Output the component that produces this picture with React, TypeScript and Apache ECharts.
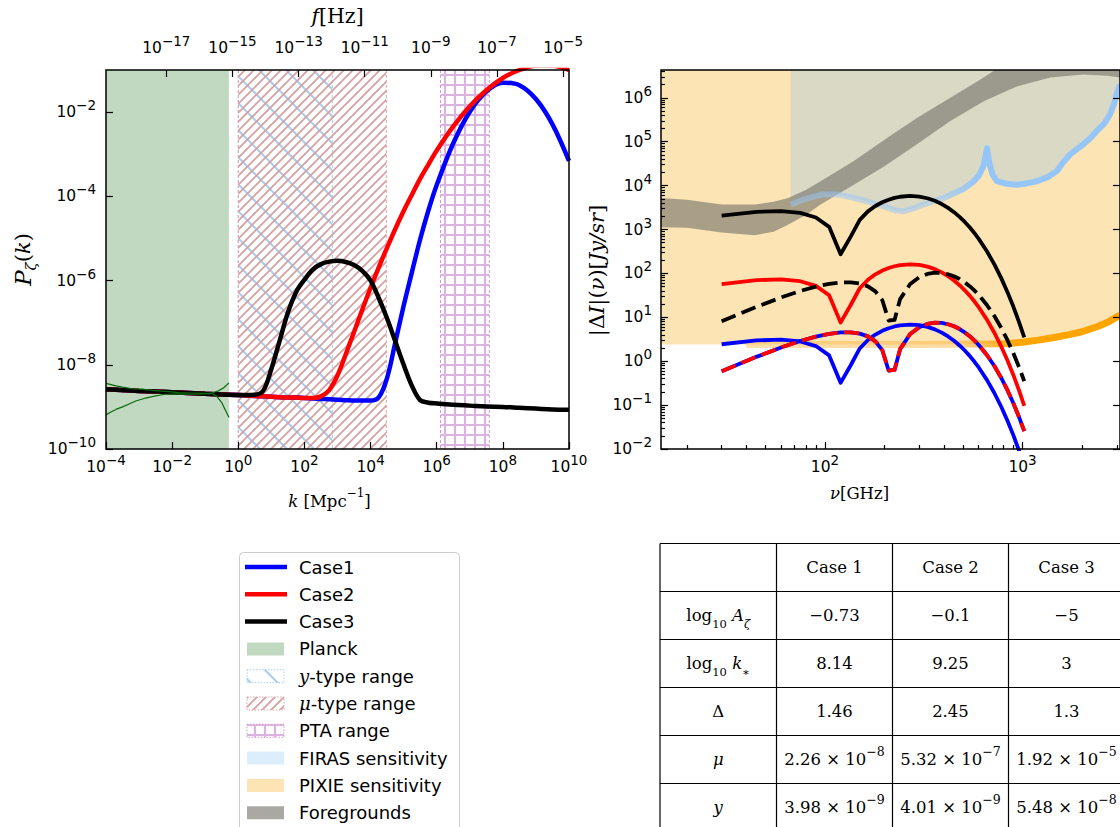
import React, { useEffect, useRef } from 'react';
import * as echarts from 'echarts';

// ================= LEFT PANEL DATA =================
const LOG_K = [-4, -3, -2, -1, 0, 0.5, 0.75, 1, 1.25, 1.5, 1.75, 2, 2.25, 2.5, 2.75, 3, 3.25, 3.5, 3.75, 4, 4.25, 4.5, 4.75, 5, 5.25, 5.5, 5.75, 6, 6.5, 7, 7.5, 8, 8.5, 9, 9.5, 10];
const LOG_P_CASE1 = [-8.58, -8.62, -8.65, -8.69, -8.72, -8.74, -8.75, -8.76, -8.77, -8.78, -8.78, -8.79, -8.80, -8.81, -8.82, -8.83, -8.84, -8.85, -8.85, -8.85, -8.77, -8.31, -7.46, -6.60, -5.80, -5.02, -4.33, -3.73, -2.74, -1.99, -1.51, -1.30, -1.36, -1.69, -2.29, -3.16];
const LOG_P_CASE2 = [-8.58, -8.62, -8.65, -8.69, -8.72, -8.74, -8.75, -8.76, -8.77, -8.78, -8.78, -8.79, -8.79, -8.75, -8.60, -8.25, -7.75, -7.22, -6.69, -6.17, -5.68, -5.22, -4.77, -4.35, -3.96, -3.58, -3.24, -2.91, -2.34, -1.86, -1.48, -1.19, -1.00, -0.90, -0.90, -1.00];
const LOG_P_CASE3 = [-8.58, -8.62, -8.65, -8.69, -8.72, -8.71, -8.62, -8.10, -7.43, -6.76, -6.27, -5.98, -5.74, -5.61, -5.55, -5.53, -5.56, -5.63, -5.77, -6.00, -6.42, -6.90, -7.45, -8.00, -8.50, -8.84, -8.90, -8.92, -8.95, -8.97, -8.99, -9.00, -9.02, -9.04, -9.06, -9.07];
const PLANCK_UP_LOGK = [-4, -3.7, -3.5, -3.2, -2.9, -2.6, -2.2, -1.8, -1.4, -1.0, -0.8, -0.6, -0.45, -0.28];
const PLANCK_UP_LOGP = [-8.44, -8.50, -8.53, -8.57, -8.58, -8.61, -8.63, -8.66, -8.67, -8.68, -8.67, -8.62, -8.55, -8.43];
const PLANCK_LO_LOGK = [-4, -3.85, -3.7, -3.5, -3.3, -3.1, -2.8, -2.5, -2.2, -1.8, -1.4, -1.0, -0.8, -0.65, -0.5, -0.28];
const PLANCK_LO_LOGP = [-9.19, -9.12, -9.06, -9.0, -8.93, -8.86, -8.79, -8.74, -8.70, -8.69, -8.70, -8.69, -8.68, -8.75, -8.90, -9.25];
const PLANCK_K = [1e-4, 0.52];
const YTYPE_K = [1, 700];
const MUTYPE_K = [1, 3e4];
const PTA_K = [1.3e6, 3.9e7];
const K_TICKS = [1e-4, 1e-2, 1, 1e2, 1e4, 1e6, 1e8, 1e10];
const F_TICKS = [1e-17, 1e-15, 1e-13, 1e-11, 1e-9, 1e-7, 1e-5];
const P_TICKS = [1e-10, 1e-8, 1e-6, 1e-4, 1e-2];
const K_RANGE = [1e-4, 1e10];
const P_RANGE = [1e-10, 1e-1];
const K_TO_F = 1.5e-15;

// ================= RIGHT PANEL DATA =================
const NU = [30, 45, 60, 75, 90, 105, 120, 135, 150, 165, 180, 195, 210, 225, 240, 270, 300, 330, 360, 390, 420, 450, 480, 510, 540, 570, 600, 660, 720, 780, 840, 900, 960, 1020];
const LOG_MU_CASE3 = [3.315, 3.403, 3.420, 3.379, 3.274, 3.061, 2.436, 2.837, 3.219, 3.413, 3.536, 3.621, 3.679, 3.720, 3.746, 3.764, 3.751, 3.712, 3.654, 3.580, 3.493, 3.395, 3.288, 3.173, 3.051, 2.922, 2.787, 2.504, 2.205, 1.892, 1.567, 1.233, 0.891, 0.541];
const LOG_MU_CASE2 = [1.758, 1.846, 1.863, 1.822, 1.717, 1.504, 0.879, 1.280, 1.662, 1.856, 1.979, 2.064, 2.122, 2.163, 2.189, 2.207, 2.194, 2.155, 2.097, 2.023, 1.936, 1.838, 1.731, 1.616, 1.494, 1.365, 1.230, 0.947, 0.648, 0.335, 0.010, -0.324, -0.666, -1.016];
const LOG_MU_CASE1 = [0.386, 0.474, 0.491, 0.450, 0.345, 0.132, -0.493, -0.092, 0.290, 0.484, 0.607, 0.692, 0.750, 0.791, 0.817, 0.835, 0.822, 0.783, 0.725, 0.651, 0.564, 0.466, 0.359, 0.244, 0.122, -0.007, -0.142, -0.425, -0.724, -1.037, -1.362, -1.696, -2.038, -2.388];
const LOG_Y_CASE3 = [0.911, 1.238, 1.452, 1.599, 1.699, 1.763, 1.795, 1.797, 1.768, 1.705, 1.592, 1.393, 0.927, 0.939, 1.413, 1.759, 1.913, 1.987, 2.015, 2.010, 1.981, 1.934, 1.871, 1.795, 1.709, 1.613, 1.509, 1.280, 1.029, 0.759, 0.473, 0.175, -0.135, -0.454];
const LOG_Y_CASE12 = [-0.228, 0.099, 0.313, 0.460, 0.560, 0.624, 0.656, 0.658, 0.629, 0.566, 0.453, 0.254, -0.212, -0.200, 0.274, 0.620, 0.774, 0.848, 0.876, 0.871, 0.842, 0.795, 0.732, 0.656, 0.570, 0.474, 0.370, 0.141, -0.110, -0.380, -0.666, -0.964, -1.274, -1.593];
const PIXIE_NU = [14.8, 40, 100, 300, 600, 800, 1000, 1200, 1400, 1700, 2000, 2400, 2700, 3113];
const PIXIE_LOG = [0.38, 0.38, 0.38, 0.38, 0.39, 0.40, 0.43, 0.48, 0.53, 0.60, 0.67, 0.79, 0.89, 1.05];
const FIRAS_NU = [67, 80, 97, 115, 140, 170, 207, 230, 251, 280, 316, 400, 500, 560, 600, 635, 661, 680, 705, 742, 830, 935, 1050, 1180, 1350, 1490, 1600, 1740, 1900, 2030, 2200, 2370, 2600, 2770, 2900, 3000, 3113];
const FIRAS_LOG = [3.57, 3.70, 3.80, 3.80, 3.72, 3.62, 3.50, 3.43, 3.42, 3.48, 3.57, 3.72, 3.92, 4.08, 4.22, 4.45, 4.85, 4.50, 4.25, 4.10, 4.04, 4.02, 4.05, 4.10, 4.20, 4.33, 4.52, 4.71, 4.84, 4.94, 5.08, 5.24, 5.42, 5.62, 5.85, 6.10, 6.30];
const FG_UP_NU = [14.8, 20, 30, 44, 55, 65, 80, 95, 140, 207, 292, 431, 636, 725, 3113];
const FG_UP_LOG = [3.72, 3.68, 3.57, 3.57, 3.63, 3.72, 3.90, 4.10, 4.56, 5.09, 5.54, 6.0, 6.46, 6.633, 6.633];
const FG_LO_NU = [14.8, 20, 30, 44, 55, 65, 80, 95, 140, 200, 292, 431, 636, 935, 1380, 2030, 2700, 3113];
const FG_LO_LOG = [3.05, 3.04, 2.93, 2.87, 2.95, 3.11, 3.33, 3.57, 4.02, 4.44, 4.94, 5.47, 5.92, 6.26, 6.46, 6.53, 6.50, 6.46];
const NU_RANGE = [14.8, 3113];
const I_RANGE = [1e-2, 4.3e6];
const NU_TICKS = [100, 1000];
const I_TICKS = [1e-2, 1e-1, 1, 1e1, 1e2, 1e3, 1e4, 1e5, 1e6];

// ================= TABLE =================
const TABLE_CASES = ['Case 1', 'Case 2', 'Case 3'];
const LOG10_A = ['−0.73', '−0.1', '−5'];
const LOG10_KSTAR = ['8.14', '9.25', '3'];
const DELTA_VAL = ['1.46', '2.45', '1.3'];
const MU_MANT = ['2.26', '5.32', '1.92'];
const MU_EXP = ['−8', '−7', '−5'];
const Y_MANT = ['3.98', '4.01', '5.48'];
const Y_EXP = ['−9', '−9', '−8'];

// ================= LEGEND =================
const LEGEND_LABELS = ['Case1', 'Case2', 'Case3', 'Planck', '{m|y}{t|-type range}', '{m|μ}{t|-type range}', 'PTA range', 'FIRAS sensitivity', 'PIXIE sensitivity', 'Foregrounds'];

// ================= STYLE =================
const FONT = 'DejaVu Sans';
const SERIF = 'DejaVu Serif';
const C_BLUE = '#0000ff';
const C_RED = '#ff0000';
const C_BLACK = '#000000';
const C_PLANCK = '#c0d9c0';
const C_PIXIE_FILL = 'rgb(253,228,180)';
const C_FIRAS_FILL = 'rgba(130,190,245,0.28)';
const C_FG = 'rgba(118,114,106,0.62)';
const C_YHATCH = '#a9cdf2';
const C_MUHATCH = '#d6a0a0';
const C_PTAHATCH = '#dab3de';

const lo = (v: number) => v * (1 - 1e-9);
const hi = (v: number) => v * (1 + 1e-9);

const expLabel = (v: number) => {
  const e = Math.round(Math.log10(v));
  return `{b|10}{s|${e < 0 ? '−' + -e : e}}`;
};
const LABEL_RICH = {
  b: { fontFamily: FONT, fontSize: 15.5, lineHeight: 28, color: '#000' },
  s: { fontFamily: FONT, fontSize: 13.5, lineHeight: 12, verticalAlign: 'top', color: '#000' },
};
const NAME_RICH = {
  n: { fontFamily: SERIF, fontSize: 16.5, lineHeight: 28, color: '#000' },
  i: { fontFamily: SERIF, fontStyle: 'italic', fontSize: 16.5, lineHeight: 28, color: '#000' },
  s: { fontFamily: SERIF, fontSize: 12, lineHeight: 11, verticalAlign: 'top', color: '#000' },
  N: { fontFamily: SERIF, fontSize: 20.5, lineHeight: 28, color: '#000' },
  I: { fontFamily: SERIF, fontStyle: 'italic', fontSize: 20.5, lineHeight: 28, color: '#000' },
  yn: { fontFamily: SERIF, fontSize: 21, lineHeight: 30, color: '#000' },
  yi: { fontFamily: SERIF, fontStyle: 'italic', fontSize: 21, lineHeight: 30, color: '#000' },
  yP: { fontFamily: SERIF, fontStyle: 'italic', fontSize: 23, lineHeight: 30, color: '#000' },
  yb: { fontFamily: SERIF, fontStyle: 'italic', fontSize: 15, lineHeight: 21, verticalAlign: 'bottom', color: '#000' },
};

function minorTicks(a: number, b: number) {
  const out: number[] = [];
  for (let e = Math.floor(Math.log10(a)); e <= Math.ceil(Math.log10(b)); e++) {
    for (let m = 2; m <= 9; m++) {
      const v = m * Math.pow(10, e);
      if (v > a && v < b) out.push(v);
    }
  }
  return out;
}

function hatch(kind: string, size: number, color: string, lw: number) {
  const c = document.createElement('canvas');
  c.width = size;
  c.height = size;
  const g = c.getContext('2d')!;
  g.strokeStyle = color;
  g.lineWidth = lw;
  g.beginPath();
  if (kind === 'fwd') {
    g.moveTo(-2, size + 2); g.lineTo(size + 2, -2);
    g.moveTo(-2, 2); g.lineTo(2, -2);
    g.moveTo(size - 2, size + 2); g.lineTo(size + 2, size - 2);
  } else if (kind === 'back') {
    g.moveTo(-2, -2); g.lineTo(size + 2, size + 2);
    g.moveTo(size - 2, -2); g.lineTo(size + 2, 2);
    g.moveTo(-2, size - 2); g.lineTo(2, size + 2);
  } else {
    g.moveTo(size / 2, 0); g.lineTo(size / 2, size);
    g.moveTo(0, size / 2); g.lineTo(size, size / 2);
  }
  g.stroke();
  return { image: c.toDataURL(), repeat: 'repeat', imageWidth: size, imageHeight: size };
}

const logAxis = (o: any) => ({
  type: 'log',
  logBase: 10,
  z: 10,
  axisLine: { show: false },
  splitLine: { show: false },
  minorTick: { show: false },
  minorSplitLine: { show: false },
  ...o,
});
const tickStyle = (vals: number[], len: number) => ({
  show: true, inside: true, length: len, customValues: vals, lineStyle: { color: '#000', width: 1.2 },
});
const labelStyle = (vals: number[], margin: number) => ({
  show: true, customValues: vals, formatter: expLabel, margin, rich: LABEL_RICH,
});
const noLabel = { show: false };

function buildOption() {
  const patY = hatch('back', 27, C_YHATCH, 2);
  const patMu = hatch('fwd', 9, C_MUHATCH, 1.7);
  const patPta = hatch('grid', 10, C_PTAHATCH, 2.2);

  const regionSeries = (range: number[], fill: any, edge: string | null, z: number) => ({
    type: 'custom', xAxisIndex: 0, yAxisIndex: 0, z, silent: true,
    data: [[range[0], range[1], P_RANGE[0]]],
    encode: { x: [0, 1], y: 2 },
    renderItem: (params: any, api: any) => {
      const cs = params.coordSys;
      const x0 = api.coord([api.value(0), P_RANGE[0]])[0];
      const x1 = api.coord([api.value(1), P_RANGE[0]])[0];
      const children: any[] = [{ type: 'rect', shape: { x: x0, y: cs.y, width: x1 - x0, height: cs.height }, style: { fill } }];
      if (edge) {
        [x0, x1].forEach((x) => children.push({ type: 'line', shape: { x1: x, y1: cs.y, x2: x, y2: cs.y + cs.height }, style: { stroke: edge, lineWidth: 1, lineDash: [3, 2] } }));
      }
      return { type: 'group', children };
    },
  });

  const pk = (logp: number[]) => LOG_K.map((lk, i) => [Math.pow(10, lk), Math.pow(10, logp[i])]);
  const pts = (xs: number[], logs: number[]) => xs.map((x, i) => [x, Math.pow(10, logs[i])]);
  const ptsLog = (lxs: number[], logs: number[]) => lxs.map((x, i) => [Math.pow(10, x), Math.pow(10, logs[i])]);

  const leftLine = (data: any, color: string, width: number, z: number, smooth: any = 0.35) => ({
    type: 'line', xAxisIndex: 0, yAxisIndex: 0, data, symbol: 'none', smooth, z, silent: true,
    lineStyle: { color, width, cap: 'butt' },
  });
  const rightLine = (data: any, color: any, width: number, z: number, extra: any = {}) => ({
    type: 'line', xAxisIndex: 2, yAxisIndex: 1, data, symbol: 'none', z, silent: true,
    lineStyle: { color, width, cap: 'butt', join: 'round', ...extra },
  });

  const series: any[] = [
    regionSeries(PLANCK_K, C_PLANCK, null, 1),
    regionSeries(YTYPE_K, patY, C_YHATCH, 1),
    regionSeries(MUTYPE_K, patMu, '#e2a6ae', 1),
    regionSeries(PTA_K, patPta, '#cf9ad3', 1),
    leftLine(pk(LOG_P_CASE1), C_BLUE, 4.5, 3),
    leftLine(pk(LOG_P_CASE2), C_RED, 4.5, 4),
    leftLine(pk(LOG_P_CASE3), C_BLACK, 4.5, 5),
    leftLine(ptsLog(PLANCK_UP_LOGK, PLANCK_UP_LOGP), '#0b6b0b', 1.2, 6, false),
    leftLine(ptsLog(PLANCK_LO_LOGK, PLANCK_LO_LOGP), '#0b6b0b', 1.2, 6, false),
    // right panel fills
    {
      type: 'line', xAxisIndex: 2, yAxisIndex: 1, data: pts(PIXIE_NU, PIXIE_LOG), symbol: 'none', z: 1, silent: true,
      lineStyle: { width: 0, opacity: 0 }, areaStyle: { color: C_PIXIE_FILL, opacity: 1, origin: 'end' },
    },
    {
      type: 'line', xAxisIndex: 2, yAxisIndex: 1, data: pts(FIRAS_NU, FIRAS_LOG), symbol: 'none', z: 2, silent: true,
      lineStyle: { width: 0, opacity: 0 }, areaStyle: { color: C_FIRAS_FILL, opacity: 1, origin: 'end' },
    },
    {
      type: 'custom', xAxisIndex: 2, yAxisIndex: 1, z: 3, silent: true,
      data: [[FG_UP_NU[0], Math.pow(10, FG_UP_LOG[0])]],
      renderItem: (params: any, api: any) => {
        const p: number[][] = [];
        FG_UP_NU.forEach((n, i) => p.push(api.coord([n, Math.min(Math.pow(10, FG_UP_LOG[i]), I_RANGE[1])])));
        for (let i = FG_LO_NU.length - 1; i >= 0; i--) p.push(api.coord([FG_LO_NU[i], Math.pow(10, FG_LO_LOG[i])]));
        return { type: 'polygon', shape: { points: p }, style: { fill: C_FG } };
      },
    },
    rightLine(pts(FIRAS_NU, FIRAS_LOG), new echarts.graphic.LinearGradient(0, 0, 1, 0, [
      { offset: 0, color: 'rgba(150,198,248,0.5)' },
      { offset: 0.45, color: 'rgba(150,198,248,0.55)' },
      { offset: 0.56, color: 'rgba(150,198,248,1)' },
      { offset: 1, color: 'rgba(150,198,248,1)' },
    ]), 6, 4),
    rightLine(pts(PIXIE_NU.slice(1), PIXIE_LOG.slice(1)), new echarts.graphic.LinearGradient(0, 0, 1, 0, [
      { offset: 0, color: 'rgba(255,175,50,0.4)' },
      { offset: 0.55, color: 'rgba(255,175,50,0.45)' },
      { offset: 0.72, color: 'rgba(255,165,0,1)' },
      { offset: 1, color: 'rgba(255,165,0,1)' },
    ]), 7, 4),
    rightLine(pts(NU, LOG_MU_CASE1), C_BLUE, 3.8, 5),
    rightLine(pts(NU, LOG_MU_CASE2), C_RED, 3.8, 6),
    rightLine(pts(NU, LOG_MU_CASE3), C_BLACK, 3.8, 7),
    rightLine(pts(NU, LOG_Y_CASE3), C_BLACK, 3.8, 8, { type: [15, 6.5] }),
    rightLine(pts(NU, LOG_Y_CASE12), C_BLUE, 3.8, 9),
    rightLine(pts(NU, LOG_Y_CASE12), C_RED, 3.8, 10, { type: [15, 6.5] }),
  ];

  // ---------- legend (graphic) ----------
  const g: any[] = [];
  g.push({ type: 'rect', shape: { x: 239.5, y: 552.5, width: 220, height: 300, r: 4 }, style: { fill: '#fff', stroke: '#cccccc', lineWidth: 1 } });
  const rowY = (i: number) => 567 + i * 27.3;
  const lineColors = [C_BLUE, C_RED, C_BLACK];
  const swatch: any[] = [
    null, null, null,
    { fill: C_PLANCK },
    { fill: patY, stroke: C_YHATCH, lineWidth: 1, lineDash: [1.5, 1.5] },
    { fill: patMu, stroke: '#e2a6ae', lineWidth: 1, lineDash: [1.5, 1.5] },
    { fill: patPta, stroke: '#cf9ad3', lineWidth: 1, lineDash: [1.5, 1.5] },
    { fill: C_FIRAS_FILL },
    { fill: C_PIXIE_FILL },
    { fill: C_FG },
  ];
  LEGEND_LABELS.forEach((label, i) => {
    const y = rowY(i);
    if (i < 3) {
      g.push({ type: 'line', shape: { x1: 245, y1: y, x2: 287, y2: y }, style: { stroke: lineColors[i], lineWidth: 4.5 } });
    } else {
      g.push({ type: 'rect', shape: { x: 247, y: y - 6.5, width: 37, height: 13 }, style: swatch[i] });
    }
    const isRich = label.indexOf('{') === 0;
    g.push({
      type: 'text', x: 299, y,
      style: {
        text: isRich ? label : `{t|${label}}`,
        rich: {
          t: { fontFamily: FONT, fontSize: 18, lineHeight: 22, fill: '#000', color: '#000' },
          m: { fontFamily: SERIF, fontStyle: 'italic', fontSize: 18, lineHeight: 22, fill: '#000', color: '#000' },
        },
        align: 'left', verticalAlign: 'middle', textAlign: 'left', textVerticalAlign: 'middle',
      },
    });
  });

  // ---------- table (graphic) ----------
  const colX = [660, 776.5, 892.5, 1008.5, 1124.5];
  const rowEdges = [543.5, 591.5, 639.5, 687.5, 735.5, 783.5, 831.5];
  colX.forEach((x) => g.push({ type: 'line', shape: { x1: x, y1: rowEdges[0], x2: x, y2: rowEdges[6] }, style: { stroke: '#000', lineWidth: 1.2 } }));
  rowEdges.forEach((y) => g.push({ type: 'line', shape: { x1: colX[0], y1: y, x2: colX[4], y2: y }, style: { stroke: '#000', lineWidth: 1.2 } }));
  const wrap = (s: string) => `{n|${s}}`;
  const sci = (m: string, e: string) => `{n|${m} × 10}{p|${e}}`;
  const rows: string[][] = [
    ['', ...TABLE_CASES.map(wrap)],
    ['{n|log}{b|10}{n| }{i|A}{bi|ζ}', ...LOG10_A.map(wrap)],
    ['{n|log}{b|10}{n| }{i|k}{b|∗}', ...LOG10_KSTAR.map(wrap)],
    ['{n|Δ}', ...DELTA_VAL.map(wrap)],
    ['{i|μ}', ...MU_MANT.map((m, i) => sci(m, MU_EXP[i]))],
    ['{i|y}', ...Y_MANT.map((m, i) => sci(m, Y_EXP[i]))],
  ];
  const TR = {
    n: { fontFamily: SERIF, fontSize: 16.5, lineHeight: 29, fill: '#000', color: '#000' },
    i: { fontFamily: SERIF, fontStyle: 'italic', fontSize: 16.5, lineHeight: 29, fill: '#000', color: '#000' },
    b: { fontFamily: SERIF, fontSize: 11.5, lineHeight: 19, verticalAlign: 'bottom', fill: '#000', color: '#000' },
    bi: { fontFamily: SERIF, fontStyle: 'italic', fontSize: 11.5, lineHeight: 19, verticalAlign: 'bottom', fill: '#000', color: '#000' },
    p: { fontFamily: SERIF, fontSize: 12.5, lineHeight: 12, verticalAlign: 'top', fill: '#000', color: '#000' },
  };
  rows.forEach((row, r) => row.forEach((txt, c) => {
    if (!txt) return;
    g.push({
      type: 'text', x: (colX[c] + colX[c + 1]) / 2, y: (rowEdges[r] + rowEdges[r + 1]) / 2,
      style: { text: txt, rich: TR, align: 'center', verticalAlign: 'middle', textAlign: 'center', textVerticalAlign: 'middle' },
    });
  }));

  return {
    animation: false,
    backgroundColor: '#ffffff',
    grid: [
      { left: 106, top: 70, width: 463, height: 379, show: true, borderColor: '#000', borderWidth: 1.5, z: 10, backgroundColor: 'transparent' },
      { left: 661, top: 70, width: 460, height: 379, show: true, borderColor: '#000', borderWidth: 1.5, z: 10, backgroundColor: 'transparent' },
    ],
    xAxis: [
      logAxis({
        gridIndex: 0, position: 'bottom', min: lo(K_RANGE[0]), max: hi(K_RANGE[1]),
        axisTick: tickStyle(K_TICKS, 7), axisLabel: labelStyle(K_TICKS, 4),
        name: '{i|k}{n| [Mpc}{s|−1}{n|]}', nameLocation: 'middle', nameGap: 38,
        nameTextStyle: { rich: NAME_RICH, padding: [0, 16, 0, 0] },
      }),
      logAxis({
        gridIndex: 0, position: 'top', min: lo(K_RANGE[0] * K_TO_F), max: hi(K_RANGE[1] * K_TO_F),
        axisTick: tickStyle(F_TICKS, 7), axisLabel: labelStyle(F_TICKS, 8),
        name: '{I|f}{N|[Hz]}', nameLocation: 'middle', nameGap: 40, nameTextStyle: { rich: NAME_RICH },
      }),
      logAxis({
        gridIndex: 1, position: 'bottom', min: NU_RANGE[0], max: NU_RANGE[1],
        axisTick: tickStyle(NU_TICKS, 7), axisLabel: labelStyle(NU_TICKS, 4),
        name: '{i|ν}{n|[GHz]}', nameLocation: 'middle', nameGap: 30,
        nameTextStyle: { rich: NAME_RICH, padding: [0, 62, 0, 0] },
      }),
      logAxis({
        gridIndex: 1, position: 'bottom', min: NU_RANGE[0], max: NU_RANGE[1],
        axisTick: tickStyle(minorTicks(NU_RANGE[0], NU_RANGE[1]), 4), axisLabel: noLabel,
      }),
    ],
    yAxis: [
      logAxis({
        gridIndex: 0, position: 'left', min: lo(P_RANGE[0]), max: hi(P_RANGE[1]),
        axisTick: tickStyle(P_TICKS, 7), axisLabel: labelStyle(P_TICKS, 10),
        name: '{yP|P}{yb|ζ}{yn|(}{yi|k}{yn|)}', nameLocation: 'middle', nameGap: 68, nameRotate: 90, nameTextStyle: { rich: NAME_RICH },
      }),
      logAxis({
        gridIndex: 1, position: 'left', min: lo(I_RANGE[0]), max: I_RANGE[1],
        axisTick: tickStyle(I_TICKS, 7), axisLabel: labelStyle(I_TICKS, 9),
        name: '{yn||Δ}{yi|I}{yn||(}{yi|ν}{yn|)[}{yi|Jy/sr}{yn|]}', nameLocation: 'middle', nameGap: 49, nameRotate: 90,
        nameTextStyle: { rich: NAME_RICH, padding: [0, 22, 0, 0] },
      }),
      logAxis({
        gridIndex: 1, position: 'left', min: lo(I_RANGE[0]), max: I_RANGE[1],
        axisTick: tickStyle(minorTicks(I_RANGE[0], I_RANGE[1]), 4), axisLabel: noLabel,
      }),
      logAxis({
        gridIndex: 1, position: 'right', min: lo(I_RANGE[0]), max: I_RANGE[1],
        axisTick: tickStyle(I_TICKS, 7), axisLabel: noLabel,
      }),
    ],
    series,
    graphic: { elements: g },
  };
}

export default function App() {
  const ref = useRef<HTMLDivElement>(null);
  useEffect(() => {
    if (!ref.current) return;
    const chart = echarts.init(ref.current, null, { renderer: 'svg' });
    chart.setOption(buildOption() as any);
    return () => chart.dispose();
  }, []);
  return (
    <div
      ref={ref}
      style={{ position: 'absolute', left: 0, top: 0, width: 1120, height: 827, overflow: 'hidden', background: '#fff' }}
    />
  );
}
